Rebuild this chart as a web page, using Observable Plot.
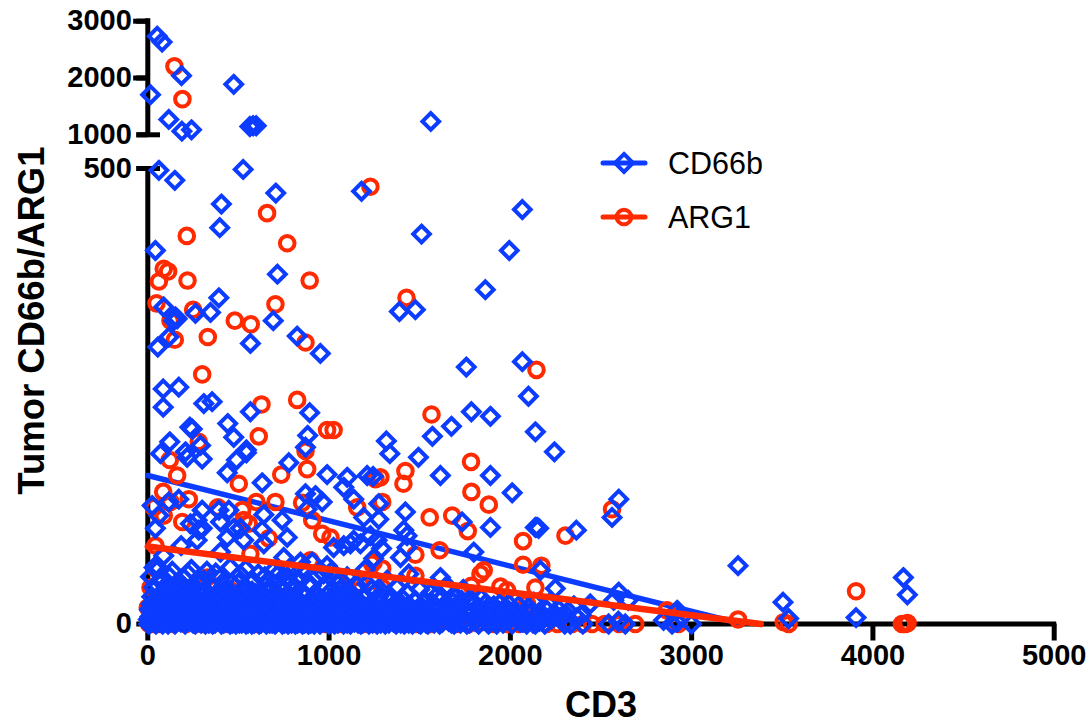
<!DOCTYPE html>
<html>
<head>
<meta charset="utf-8">
<script src="https://cdn.jsdelivr.net/npm/d3@7"></script>
<script src="https://cdn.jsdelivr.net/npm/@observablehq/plot@0.6"></script>
<style>
html,body{margin:0;padding:0;background:#fff;overflow:hidden}
#wrap{position:relative;width:1090px;height:723px}
#wrap>svg{display:block}
.lg{position:absolute;left:601px;font:30.5px "Liberation Sans",Arial,sans-serif;color:#000;display:flex;align-items:center;height:40px;line-height:40px}
.lg svg{width:46px;height:40px;margin-right:21px;overflow:visible}
</style>
</head>
<body>
<div id="wrap"></div>
<script>
const seriesNames = ["CD66b", "ARG1"];
const xTicks = [0, 1000, 2000, 3000, 4000, 5000];
const yTicks = [0, 500, 1000, 2000, 3000];
const blue = "#0b3cff";
const red = "#ff2a00";

// [CD3, CD66b]
const cd66bPoints = [
[52,2735],[79,2634],[186,2041],[474,1888],[15,1706],[116,1270],[188,1064],[241,1088],[563,1146],[581,1159],[598,1159],[1561,1235],
[61,498],[149,487],[526,499],[706,473],[1179,475],[406,461],[397,435],[42,410],[715,384],[392,358],[346,342],[88,348],[263,341],[153,337],[143,333],[162,335],[692,333],[824,316],[952,297],[566,308],[116,315],[55,304],[85,258],[171,260],[85,238],[309,242],[355,244],[566,233],[893,232],[441,220],[232,216],[245,214],[474,205],[882,207],[121,200],[1316,201],[544,191],[870,194],
[1388,343],[1476,345],[1510,428],[1862,367],[1994,410],[2066,455],[2066,288],[1757,282],[2100,250],[1785,233],[1890,228],[1675,217],[1570,206],[2138,211],[2243,189],[1493,183],[1335,187],[1614,163],[1890,163],[2010,144],[1243,162],[1274,132],[1274,115],[1421,123],[1412,103],[1430,97],[1890,106],[1734,112],[2147,106],[2138,106],[2156,105],[2364,103],[2561,117],[2598,137],[1289,83],[1394,73],[1430,84],[1798,79],[2166,59],[2248,39],[2441,22],[2598,35],[2570,26],[1614,51],[1780,26],[1816,18],[1862,22],[1908,20],[1991,22],[2055,2],[2138,0],[2202,15],[2276,7],[2331,0],[2368,7],[2542,0],[2596,3],
[3256,64],[3504,24],[3535,6],[3907,7],[4168,51],[4190,32],[2920,15],[2845,4],[2892,0],[2920,2],[2999,0],[2634,0],[2650,26],
[70,187],[217,183],[300,181],[291,196],[208,189],[544,188],[489,180],[438,166],[778,177],[631,155],[989,164],[1100,161],[1210,163],[1081,150],[1136,137],[870,143],[925,141],[962,134],[879,126],[24,130],[171,137],[116,134],[61,119],[42,105],[300,125],[392,125],[447,125],[235,110],[272,114],[281,103],[272,92],[300,105],[401,112],[474,105],[438,95],[529,92],[511,105],[640,120],[741,114],[631,103],[640,88],[769,95],[184,86],[401,79],[61,61],[88,75],[750,73],[842,68],[907,68],[989,64],[1025,84],[1081,86],[1118,88],[1173,88],[1191,117],[1228,97],[1136,92],[1265,92],[1246,72],[1072,33],[1210,44],[1191,29],
[5,0],[12,8],[18,22],[25,3],[33,40],[38,12],[45,0],[52,28],[60,6],[68,48],[75,15],[82,0],[90,35],[98,9],[105,22],[112,0],[120,52],[128,14],[135,4],[143,30],[150,0],[158,44],[166,11],[174,20],[182,2],[190,36],[198,7],[206,0],[214,26],[222,55],[230,12],[238,3],[246,38],[254,18],[262,0],[270,46],[278,9],[286,24],[294,1],[302,33],[310,14],[318,0],[326,58],[334,6],[342,21],[350,42],[358,0],[366,11],[374,30],[382,4],[390,17],[398,50],[406,0],[414,8],[422,27],[430,36],[438,2],[446,13],[454,0],[462,44],[470,20],[478,6],[486,0],[494,32],[502,10],[510,54],[518,1],[526,25],[534,14],[542,0],[550,38],[558,7],[566,19],[574,0],[582,47],[590,11],[598,28],[606,3],[614,0],[622,35],[630,16],[638,6],[646,52],[654,0],[662,22],[670,9],[678,41],[686,1],[694,15],[702,0],[710,30],[718,5],[726,56],[734,18],[742,0],[750,37],[758,8],[766,24],[774,0],[782,13],[790,45],[798,3],[806,29],[814,0],[822,10],[830,49],[838,20],[846,2],[854,0],[862,33],[870,12],[878,6],[886,0],[894,26],[902,42],[910,4],[918,0],[926,15],[934,31],[942,8],[950,0],[960,23],[970,55],[980,2],[990,12],[1000,0],[1010,36],[1020,7],[1030,0],[1042,18],[1055,3],[1068,47],[1080,0],[1092,25],[1105,9],[1118,0],[1130,32],[1145,14],[1160,1],[1175,0],[1190,20],[1205,6],[1220,0],[1235,38],[1250,11],[1265,0],[1280,24],[1295,4],[1310,0],[1325,16],[1340,30],[1355,2],[1370,0],[1385,21],[1400,8],[1415,0],[1430,34],[1445,12],[1460,0],[1475,26],[1490,5],[1505,0],[1525,14],[1545,0],[1570,9],[1590,30],[1610,0],[1640,12],[1660,3],[1690,0],[1710,20],[1735,4],[1760,0],[1790,12],[1825,0],[1845,8],[1880,0],[1900,10],[1925,0],[1950,5],[1975,13],[2010,0],[2030,9],[2090,0],[2110,12],[2160,3],[2190,0],[2225,5],[2300,0],[2400,0],
[9,16],[22,30],[31,9],[44,24],[58,14],[71,33],[84,19],[93,4],[107,29],[119,16],[131,37],[146,20],[155,6],[169,31],[181,17],[194,26],[203,13],[219,34],[233,21],[243,8],[257,29],[268,15],[281,36],[291,19],[305,6],[316,25],[329,14],[339,32],[352,18],[363,24],[376,7],[388,35],[401,22],[411,15],[425,29],[436,17],[449,33],[460,8],[473,26],[484,16],[497,21],[507,30],[521,13],[532,36],[545,19],[555,27],[569,10],[579,23],[593,33],[603,15],[617,26],[627,7],[641,30],[651,18],[665,34],[675,12],[689,25],[699,20],[713,9],[723,31],[737,16],[747,27],[761,14],[771,33],[785,22],[795,11],[809,18],[819,28],[833,8],[843,24],[857,15],[867,30],[881,21],[891,10],[905,26],[915,17],[929,6],[939,22],[953,28],[965,13],[975,19],[987,31],[997,9],[1015,24],[1027,15],[1038,29],[1050,11],[1062,21],[1074,7],[1086,17],[1098,31],[1110,14],[1122,22],[1135,6],[1150,26],[1165,11],[1180,19],[1197,29],[1212,13],[1228,22],[1243,5],[1257,17],[1272,30],[1288,10],[1302,20],[1318,7],[1333,25],[1348,14],[1362,22],[1378,6],[1392,16],[1408,27],[1423,11],[1438,20],[1452,4],[1468,15],[1483,9],
[3,5],[15,1],[28,14],[40,5],[49,18],[64,2],[78,8],[87,24],[101,2],[115,6],[124,25],[139,10],[152,15],[163,3],[178,8],[187,13],[201,3],[211,18],[226,5],[236,11],[250,1],[265,12],[275,2],[289,6],[299,12],[313,2],[323,10],[337,1],[347,8],[361,4],[371,1],[385,9],[395,3],[409,12],[419,1],[433,6],[443,2],[457,10],[467,1],[481,11],[491,4],[505,1],[515,8],[529,3],[539,7],[553,1],[563,5],[577,10],[587,1],[601,7],[611,12],[625,1],[635,11],[649,3],[659,8],[673,1],[683,5],[697,7],[707,1],[721,10],[731,4],[745,9],[755,1],[769,3],[779,7],[793,1],[803,10],[817,5],[827,1],[841,12],[851,3],[865,1],[875,8],[889,4],[899,1],[913,9],[923,2],[937,5],[947,1],[957,6],[976,3],[984,8],[1004,4],[1024,2],[1035,10],[1048,1],[1070,3],[1085,9],[1100,1],[1125,4],[1140,2],[1170,5],[1185,1],[1215,3],[1240,1],[1260,6],[1285,1],[1305,3],[1330,1],[1350,8],[1375,2],[1395,1],[1420,4],[1440,1],[1465,3],[1495,1],[1515,7],[1535,1],[1555,4],[1580,1],[1600,7],[1625,2],[1650,6],[1675,1],[1700,8],[1725,1],[1750,5],[1775,1],[1805,3],[1835,10],[1870,2],[1915,3],[1960,1],[2000,6],[2070,2],[2125,1],[2175,4],
[15,52],[35,62],[110,44],[135,58],[165,38],[200,50],[240,60],[275,36],[310,48],[345,30],[375,56],[420,42],[455,62],[500,45],[540,60],[575,36],[610,55],[650,42],[690,58],[730,40],[770,52],[810,38],[850,60],[885,44],[930,52],[975,40],[1015,58],[1060,38],[1100,52],[1155,42],[1200,60],[1260,36],[1320,48],[1375,40],[1440,55],[1500,38],[1560,34],[1650,42],[1700,30],[1740,38],
[1510,18],[1530,25],[1550,12],[1575,22],[1600,16],[1620,28],[1645,20],[1665,14],[1685,24],[1715,10],[1730,26],[1755,16],[1775,12],[1795,24],[1820,8],[1840,28],[1855,14],[1875,18],[1895,4],[1920,14],[1940,22],[1965,8],[1985,16],[2020,14],[2045,20],[2075,8],[2100,18],[2130,24],[2155,12],[2185,8],[2210,22],[2240,12],[2265,16],[2290,8],[2320,14],[2350,20],[2390,10]
];

// [CD3, ARG1]
const arg1Points = [
[147,2205],[191,1628],
[1228,480],[658,451],[215,426],[769,418],[88,390],[112,387],[61,376],[219,377],[893,377],[48,352],[704,351],[250,345],[125,333],[480,333],[568,329],[149,312],[331,315],[870,309],[300,274],[627,241],[824,246],[989,213],[1025,213],[612,206],[281,200],[870,190],
[1427,358],[2144,279],[1565,230],[1421,168],[1410,154],[1256,159],[1783,178],[1785,145],[1881,131],[1555,117],[1679,119],[1765,102],[1293,134],[2561,126],[2304,97],[2070,91],[1610,81],[1476,76],[2070,65],[2171,64],[1476,53],[1853,59],[1835,55],[1785,42],[1945,41],[1982,37],[2138,40],[2092,22],[1246,68],[1293,61],[1293,40],[1669,18],[2451,0],[1421,0],
[3256,5],[3907,36],[3508,2],[3535,0],[4160,0],[4178,0],[4191,1],[2689,0],[2864,15],[2928,0],
[121,180],[162,163],[85,145],[226,137],[125,134],[33,128],[88,119],[190,112],[386,128],[502,154],[736,164],[879,170],[599,134],[704,134],[851,133],[521,125],[529,114],[557,110],[907,114],[962,99],[1008,95],[667,94],[42,86],[566,77],[897,70],[1036,51],[1127,50],[1173,44],[1237,66],[1283,161],[1155,128],[15,40],[0,18],[42,61],[328,51],[456,37],
[8,0],[20,10],[30,0],[55,28],[70,0],[95,5],[140,0],[175,12],[210,0],[255,3],[300,0],[345,0],[395,8],[430,0],[485,0],[540,4],[600,0],[660,0],[720,6],[785,0],[850,0],[915,2],[980,0],[1050,0],[1120,5],[1190,0],[1260,0],[1340,3],[1480,0],[1560,0],[1630,6],[1700,0],[1770,0],[1840,2],[1910,0],[1980,0],[2050,0],[2120,5],[2200,0],[2260,0],[2340,0],[2400,0],[2520,0],[2600,0]
];

// fitted lines [CD3, value]
const cd66bLine = [[0,163],[3280,0]];
const arg1Line = [[0,85],[3381,0]];

const font = '"Liberation Sans",Arial,sans-serif';

const plot = Plot.plot({
  width: 1090, height: 723,
  marginLeft: 147.3, marginRight: 36.3, marginTop: 20.7, marginBottom: 99.5,
  style: {background: "#fff", fontFamily: font, color: "#000", overflow: "visible"},
  x: {domain: [0, 5000], range: [147.3, 1053.7]},
  y: {type: "linear", domain: [0, 500, 1000, 3000], range: [623.5, 168, 134.3, 20.7]},
  marks: [
    Plot.axisX({ticks: xTicks, tickFormat: d => String(d), tickSize: 17, strokeWidth: 5, tickPadding: 3, fontSize: 29, fontWeight: "bold", label: null, fill: "#000"}),
    Plot.axisY({ticks: yTicks, tickFormat: d => String(d), tickSize: 11, strokeWidth: 5, tickPadding: 5, fontSize: 29, fontWeight: "bold", label: null, fill: "#000"}),
    Plot.ruleY([0], {x1: 0, x2: 5000, stroke: "#000", strokeWidth: 5, strokeLinecap: "square"}),
    Plot.ruleX([0], {y1: 0, y2: 500, stroke: "#000", strokeWidth: 5}),
    Plot.ruleX([0], {y1: 1000, y2: 3000, stroke: "#000", strokeWidth: 5, strokeLinecap: "square"}),
    Plot.ruleY([500, 1000], {x1: -60, x2: 70, stroke: "#000", strokeWidth: 5}),
    Plot.ruleY([2000, 3000], {x1: -78, x2: 0, stroke: "#000", strokeWidth: 5}),
    Plot.text(["CD3"], {frameAnchor: "bottom", dy: 81, fontSize: 36, fontWeight: "bold", fill: "#000", lineAnchor: "middle"}),
    Plot.text(["Tumor CD66b/ARG1"], {frameAnchor: "left", textAnchor: "middle", dx: -115, dy: -2, rotate: -90, fontSize: 36.5, fontWeight: "bold", fill: "#000"}),
    Plot.line(cd66bLine, {x: d => d[0], y: d => d[1], stroke: blue, strokeWidth: 5.5, strokeLinecap: "round"}),
    Plot.dot(arg1Points, {x: d => d[0], y: d => d[1], symbol: "circle", r: 7.3, stroke: red, strokeWidth: 4, fill: "none"}),
    Plot.dot(cd66bPoints, {x: d => d[0], y: d => d[1], symbol: "diamond2", r: 7.5, stroke: blue, strokeWidth: 4, fill: "none"}),
    Plot.line(arg1Line, {x: d => d[0], y: d => d[1], stroke: red, strokeWidth: 6.5, strokeLinecap: "round"})
  ]
});
const wrap = document.getElementById("wrap");
wrap.appendChild(plot);

// legend
function addLegend(name, color, top, marker) {
  const div = document.createElement("div");
  div.className = "lg";
  div.style.top = top + "px";
  div.innerHTML = `<svg viewBox="0 0 46 40"><line x1="2" x2="44" y1="20" y2="20" stroke="${color}" stroke-width="5" stroke-linecap="round"/>${marker}</svg><span>${name}</span>`;
  wrap.appendChild(div);
}
addLegend(seriesNames[0], blue, 143, `<path d="M23 11L32 20L23 29L14 20Z" fill="none" stroke="${blue}" stroke-width="4"/>`);
addLegend(seriesNames[1], red, 197, `<circle cx="23" cy="20" r="7.3" fill="none" stroke="${red}" stroke-width="4"/>`);
</script>
</body>
</html>
